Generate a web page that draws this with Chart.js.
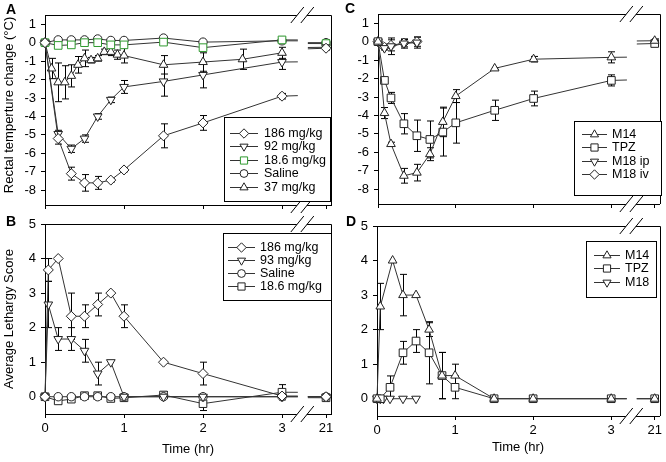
<!DOCTYPE html>
<html>
<head>
<meta charset="utf-8">
<script src="https://cdn.jsdelivr.net/npm/chart.js@4.4.1/dist/chart.umd.min.js"></script>
<style>
  html, body { margin: 0; padding: 0; background: #fff; }
  #wrap { position: relative; width: 666px; height: 462px; }
  canvas { position: absolute; left: 0; top: 0; }
</style>
</head>
<body>
<div id="wrap">
  <canvas id="cA" width="666" height="462"></canvas>
  <canvas id="cB" width="666" height="462"></canvas>
  <canvas id="cC" width="666" height="462"></canvas>
  <canvas id="cD" width="666" height="462"></canvas>
</div>
<script>
// ---- tick labels ----
const xTickHours = [0, 1, 2, 3, 21];
const xTickLabels = ['0', '1', '2', '3', '21'];
const tempTicks = [1, 0, -1, -2, -3, -4, -5, -6, -7, -8];
const scoreTicks = [0, 1, 2, 3, 4, 5];

// ---- panel A: rectal temperature change ----
const tA = [0, 0.167, 0.333, 0.5, 0.667, 0.833, 1, 1.5, 2, 3, 21];
const a186 = [0, -5.2, -7.1, -7.6, -7.6, -7.45, -6.9, -5.05, -4.35, -2.9, -0.3];
const a186Err = [0, 0.3, 0.35, 0.45, 0.35, 0.1, 0.1, 0.65, 0.4, 0.15, 0.1];
const a92 = [0, -4.95, -5.75, -5.2, -4.0, -3.1, -2.4, -2.1, -1.75, -1.05, -0.25];
const a92Err = [0, 0.2, 0.2, 0.2, 0.15, 0.15, 0.35, 0.8, 0.7, 0.4, 0.1];
const a18 = [0, -0.15, -0.12, 0, 0, -0.12, -0.12, 0.03, -0.27, 0.15, -0.05];
const a18Err = [0, 0.05, 0.05, 0.05, 0.05, 0.05, 0.05, 0.05, 0.08, 0.15, 0.2];
const aSal = [0, 0.15, 0.15, 0.15, 0.2, 0.12, 0.12, 0.25, 0.03, 0.1, 0];
const aSalErr = [0, 0.05, 0.05, 0.05, 0.05, 0.05, 0.05, 0.05, 0.05, 0.05, 0.05];
const tA37 = [0, 0.083, 0.167, 0.25, 0.333, 0.417, 0.5, 0.583, 0.667, 0.75, 0.833, 0.917, 1, 1.5, 2, 2.5, 3];
const a37 = [0, -1.4, -2.15, -2.15, -1.8, -1.2, -0.85, -0.95, -0.85, -0.5, -0.5, -0.65, -0.7, -1.2, -1.05, -0.9, -0.55];
const a37Err = [0, 0.55, 1.05, 0.9, 0.6, 0.45, 0.45, 0.15, 0.15, 0.15, 0.2, 0.25, 0.4, 0.5, 0.5, 0.55, 0.3];

// ---- panel B: lethargy score ----
const tB = [0, 0.042, 0.167, 0.333, 0.5, 0.667, 0.833, 1, 1.5, 2, 3, 21];
const b186 = [0, 3.67, 4.0, 2.33, 2.33, 2.67, 3.0, 2.33, 1.0, 0.67, 0.02, 0];
const b186Err = [0, 0.33, 0, 0.67, 0.33, 0.33, 0, 0.33, 0, 0.33, 0, 0];
const b93 = [0, 2.67, 1.67, 1.67, 1.33, 0.67, 1.0, 0, 0, 0, 0, 0];
const b93Err = [0, 0.67, 0.33, 0.33, 0.33, 0.33, 0, 0, 0, 0, 0, 0];
const tB2 = [0, 0.167, 0.333, 0.5, 0.667, 0.833, 1, 1.5, 2, 3, 21];
const bSal = [0, 0, 0, 0, 0, 0, 0, 0, 0, 0, 0];
const b18 = [0, -0.12, -0.07, 0.03, 0.03, -0.05, -0.03, 0.05, -0.2, 0.13, -0.03];
const b18Err = [0, 0.05, 0.05, 0.05, 0.05, 0.05, 0.05, 0.1, 0.2, 0.22, 0];

// ---- panel C: temperature, metabolites ----
const tC = [0, 0.083, 0.167, 0.333, 0.5, 0.667, 0.833, 1, 1.5, 2, 3, 21];
const cM14 = [0, -3.87, -5.55, -7.27, -7.1, -6.1, -4.35, -2.95, -1.45, -0.95, -0.85, 0.05];
const cM14Err = [0, 0.3, 0.1, 0.4, 0.45, 0.35, 0.8, 0.35, 0.05, 0.15, 0.3, 0.1];
const cTPZ = [0, -2.1, -3.05, -4.45, -5.1, -5.3, -4.9, -4.4, -3.72, -3.08, -2.1, -0.1];
const cTPZErr = [0, 0.1, 0.3, 0.55, 0.85, 1.0, 1.3, 1.1, 0.55, 0.4, 0.3, 0.1];
const tC18 = [0, 0.083, 0.167, 0.333, 0.5];
const cM18ip = [0, -0.35, -0.25, -0.1, -0.05];
const cM18ipErr = [0, 0.1, 0.45, 0.25, 0.3];
const cM18iv = [0, -0.3, -0.2, -0.08, 0];
const cM18ivErr = [0, 0.1, 0.3, 0.2, 0.25];

// ---- panel D: lethargy, metabolites ----
const tD = [0, 0.042, 0.2, 0.333, 0.5, 0.667, 0.833, 1, 1.5, 2, 3, 21];
const dM14 = [0, 2.67, 4.0, 3.0, 3.0, 2.0, 0.67, 0.67, 0, 0, 0, 0];
const dM14Err = [0, 0.67, 0, 0.6, 0, 0.2, 0.67, 0.33, 0, 0, 0, 0];
const tDTPZ = [0, 0.042, 0.167, 0.333, 0.5, 0.667, 0.833, 1, 1.5, 2, 3, 21];
const dTPZ = [0, 0, 0.33, 1.33, 1.67, 1.33, 0.67, 0.33, 0, 0, 0, 0];
const dTPZErr = [0, 0, 0.33, 0.33, 0.33, 0.9, 0.67, 0.33, 0, 0, 0, 0];
const tD18 = [0, 0.042, 0.083, 0.167, 0.333, 0.5];
const dM18 = [0, 0, 0, 0, 0, 0];

// broken time axis: 0..3.2 h linear, then a short stretch ending at 21 h
const BREAK_LO = 3.2, BREAK_HI = 20.77, X21 = 3.557, X_MAX = 3.62;
const mapT = t => t <= BREAK_LO ? t : X21 - (21 - t);
const BREAK_MID = (mapT(BREAK_LO) + mapT(BREAK_HI)) / 2;

const SIZES = { rectRot: 5, triangle: 5, rect: 5.4, circle: 4.2 };
const FONT = '"Liberation Sans", Arial, sans-serif';
Chart.defaults.font.family = FONT;
Chart.defaults.color = '#000';

function buildPoints(times, vals, errs) {
  const pts = [];
  for (let i = 0; i < times.length; i++) {
    const t = times[i];
    if (i > 0 && times[i - 1] <= 3 && t >= 21) {
      const t0 = times[i - 1], v0 = vals[i - 1];
      const f = u => v0 + (vals[i] - v0) * (u - t0) / (t - t0);
      pts.push({ x: mapT(BREAK_LO), y: f(BREAK_LO), gap: true });
      pts.push({ x: BREAK_MID, y: null, gap: true });
      pts.push({ x: mapT(BREAK_HI), y: f(BREAK_HI), gap: true });
    }
    pts.push({ x: mapT(t), y: vals[i], e: errs ? errs[i] : 0 });
  }
  return pts;
}

function series(label, times, vals, errs, style, rot, color) {
  return {
    label,
    data: buildPoints(times, vals, errs),
    borderColor: '#333',
    borderWidth: 1,
    pointStyle: style,
    pointRotation: rot || 0,
    pointRadius: c => (c.raw && c.raw.gap) ? 0 : SIZES[style],
    pointHoverRadius: 0,
    pointBorderColor: color || '#222',
    pointBackgroundColor: '#fff',
    pointBorderWidth: 1,
    tension: 0,
    spanGaps: false,
    clip: false
  };
}

const errorBars = {
  id: 'errorBars',
  beforeDatasetsDraw(chart) {
    const { ctx } = chart, xs = chart.scales.x, ys = chart.scales.y;
    ctx.save();
    ctx.strokeStyle = '#000';
    ctx.lineWidth = 1;
    chart.data.datasets.forEach(ds => {
      ds.data.forEach(p => {
        if (!p.e || p.y == null) return;
        const x = Math.round(xs.getPixelForValue(p.x)) + 0.5;
        const y1 = ys.getPixelForValue(p.y - p.e), y2 = ys.getPixelForValue(p.y + p.e);
        ctx.beginPath();
        ctx.moveTo(x, y1); ctx.lineTo(x, y2);
        ctx.moveTo(x - 3.5, y1); ctx.lineTo(x + 3.5, y1);
        ctx.moveTo(x - 3.5, y2); ctx.lineTo(x + 3.5, y2);
        ctx.stroke();
      });
    });
    ctx.restore();
  }
};

const frame = {
  id: 'frame',
  afterDraw(chart) {
    const { ctx, chartArea: a } = chart;
    const top = Math.round(a.top) + 0.5, right = Math.round(a.right) + 0.5;
    ctx.save();
    ctx.strokeStyle = '#000';
    ctx.lineWidth = 1;
    ctx.beginPath();
    ctx.moveTo(a.left, top); ctx.lineTo(right, top); ctx.lineTo(right, a.bottom);
    ctx.stroke();
    const cx = chart.scales.x.getPixelForValue(BREAK_MID);
    [a.top, a.bottom].forEach(by => {
      ctx.fillStyle = '#fff';
      ctx.beginPath();
      ctx.moveTo(cx - 12, by + 8); ctx.lineTo(cx + 1, by - 8);
      ctx.lineTo(cx + 11, by - 8); ctx.lineTo(cx - 2, by + 8);
      ctx.closePath();
      ctx.fill();
      ctx.beginPath();
      ctx.moveTo(cx - 12, by + 8); ctx.lineTo(cx + 1, by - 8);
      ctx.moveTo(cx - 2, by + 8); ctx.lineTo(cx + 11, by - 8);
      ctx.stroke();
    });
    ctx.restore();
  }
};

const boxLegend = {
  id: 'boxLegend',
  afterDraw(chart, args, o) {
    const ctx = chart.ctx;
    ctx.save();
    ctx.fillStyle = '#fff';
    ctx.fillRect(o.x, o.y, o.w, o.h);
    ctx.strokeStyle = '#000';
    ctx.lineWidth = 1;
    ctx.strokeRect(o.x + 0.5, o.y + 0.5, o.w, o.h);
    ctx.font = '12.5px ' + FONT;
    ctx.textBaseline = 'middle';
    chart.data.datasets.forEach((d, i) => {
      const y = Math.round(o.y + o.first + i * o.rowH) + 0.5;
      ctx.strokeStyle = '#333';
      ctx.beginPath();
      ctx.moveTo(o.x + o.line0, y); ctx.lineTo(o.x + o.line1, y);
      ctx.stroke();
      ctx.fillStyle = '#fff';
      ctx.strokeStyle = d.pointBorderColor;
      Chart.helpers.drawPoint(ctx, {
        pointStyle: d.pointStyle, rotation: d.pointRotation || 0,
        radius: SIZES[d.pointStyle] - 0.3, borderWidth: 1
      }, o.x + (o.line0 + o.line1) / 2, y);
      ctx.fillStyle = '#000';
      ctx.fillText(d.label, o.x + o.text, y + 0.5);
    });
    ctx.restore();
  }
};

const panelText = {
  id: 'panelText',
  afterDraw(chart, args, o) {
    const ctx = chart.ctx;
    ctx.save();
    ctx.fillStyle = '#000';
    ctx.textAlign = 'center';
    ctx.textBaseline = 'middle';
    o.items.forEach(it => {
      ctx.font = it.font + ' ' + FONT;
      ctx.save();
      ctx.translate(it.x, it.y);
      if (it.rot) ctx.rotate(it.rot);
      ctx.fillText(it.text, 0, 0);
      ctx.restore();
    });
    ctx.restore();
  }
};

function makeChart(id, cfg) {
  const a = cfg.area;
  return new Chart(document.getElementById(id), {
    type: 'line',
    data: { datasets: cfg.datasets },
    options: {
      responsive: false,
      animation: false,
      devicePixelRatio: 1,
      events: [],
      layout: { padding: { left: a.left - 40, right: 666 - a.right, top: a.top, bottom: 462 - a.bottom - 30 } },
      scales: {
        x: {
          type: 'linear', min: 0, max: X_MAX,
          afterFit: s => { s.height = 30; s.paddingLeft = 0; s.paddingRight = 0; },
          afterBuildTicks: s => { s.ticks = xTickHours.map(h => ({ value: mapT(h) })); },
          ticks: { display: cfg.xLabels, callback: (v, i) => xTickLabels[i], padding: 3, maxRotation: 0, autoSkip: false, font: { size: 13 } },
          grid: { drawOnChartArea: false, tickLength: 4, tickColor: '#000' },
          border: { color: '#000', width: 1 }
        },
        y: {
          type: 'linear', min: cfg.yMin, max: cfg.yMax,
          afterFit: s => { s.width = 40; s.paddingTop = 0; s.paddingBottom = 0; },
          afterBuildTicks: s => { s.ticks = cfg.yTicks.slice().sort((p, q) => p - q).map(v => ({ value: v })); },
          ticks: { padding: 5, font: { size: 13 } },
          grid: { drawOnChartArea: false, tickLength: 4, tickColor: '#000' },
          border: { color: '#000', width: 1 }
        }
      },
      plugins: {
        legend: { display: false },
        tooltip: { enabled: false },
        boxLegend: cfg.legend,
        panelText: { items: cfg.texts }
      }
    },
    plugins: [errorBars, frame, boxLegend, panelText]
  });
}

const GREEN = '#2f9a2f';
const UP = 0, DOWN = 180;

makeChart('cA', {
  area: { left: 45, right: 331, top: 15, bottom: 205 },
  yMin: -8.8, yMax: 1.5, yTicks: tempTicks, xLabels: false,
  datasets: [
    series('186 mg/kg', tA, a186, a186Err, 'rectRot'),
    series('92 mg/kg', tA, a92, a92Err, 'triangle', DOWN),
    series('18.6 mg/kg', tA, a18, a18Err, 'rect', 0, GREEN),
    series('Saline', tA, aSal, aSalErr, 'circle'),
    series('37 mg/kg', tA37, a37, a37Err, 'triangle', UP)
  ],
  legend: { x: 224, y: 117, w: 106, h: 84, first: 15.5, rowH: 13.5, line0: 6, line1: 34, text: 40 },
  texts: [
    { text: 'A', x: 11, y: 10, font: 'bold 14px' },
    { text: 'Rectal temperture change (°C)', x: 9, y: 105, font: '13px', rot: -Math.PI / 2 }
  ]
});

makeChart('cB', {
  area: { left: 45, right: 331, top: 224, bottom: 414 },
  yMin: -0.5, yMax: 5, yTicks: scoreTicks, xLabels: true,
  datasets: [
    series('186 mg/kg', tB, b186, b186Err, 'rectRot'),
    series('93 mg/kg', tB, b93, b93Err, 'triangle', DOWN),
    series('Saline', tB2, bSal, null, 'circle'),
    series('18.6 mg/kg', tB2, b18, b18Err, 'rect')
  ],
  legend: { x: 223, y: 233, w: 108, h: 67, first: 13.5, rowH: 13.1, line0: 5, line1: 32, text: 37 },
  texts: [
    { text: 'B', x: 11, y: 222, font: 'bold 14px' },
    { text: 'Average Lethargy Score', x: 9, y: 319, font: '13px', rot: -Math.PI / 2 },
    { text: 'Time (hr)', x: 188, y: 449, font: '13px' }
  ]
});

makeChart('cC', {
  area: { left: 378, right: 662, top: 14, bottom: 204 },
  yMin: -8.8, yMax: 1.5, yTicks: tempTicks, xLabels: false,
  datasets: [
    series('M14', tC, cM14, cM14Err, 'triangle', UP),
    series('TPZ', tC, cTPZ, cTPZErr, 'rect'),
    series('M18 ip', tC18, cM18ip, cM18ipErr, 'triangle', DOWN),
    series('M18 iv', tC18, cM18iv, cM18ivErr, 'rectRot')
  ],
  legend: { x: 574, y: 121, w: 87, h: 74, first: 12.5, rowH: 13.6, line0: 8, line1: 33, text: 38 },
  texts: [
    { text: 'C', x: 350, y: 9, font: 'bold 14px' }
  ]
});

makeChart('cD', {
  area: { left: 377, right: 662, top: 226, bottom: 416 },
  yMin: -0.5, yMax: 5, yTicks: scoreTicks, xLabels: true,
  datasets: [
    series('M14', tD, dM14, dM14Err, 'triangle', UP),
    series('TPZ', tDTPZ, dTPZ, dTPZErr, 'rect'),
    series('M18', tD18, dM18, null, 'triangle', DOWN)
  ],
  legend: { x: 586, y: 241, w: 70, h: 56, first: 14, rowH: 13.3, line0: 8, line1: 34, text: 39 },
  texts: [
    { text: 'D', x: 351, y: 222, font: 'bold 14px' },
    { text: 'Time (hr)', x: 518, y: 447, font: '13px' }
  ]
});
</script>
</body>
</html>
